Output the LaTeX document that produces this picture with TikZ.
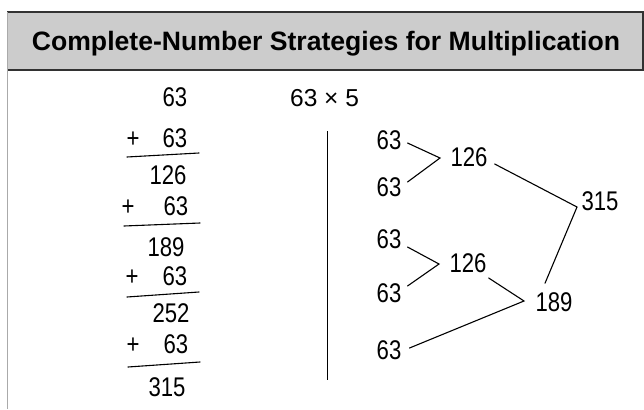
\documentclass[tikz,border=0pt]{standalone}
\usepackage{fontspec}
\setmainfont{Liberation Sans}
\newfontfamily\handfont[FakeStretch=0.82]{Liberation Sans}
\definecolor{hdrfill}{RGB}{204,204,204}
\definecolor{hdrline}{RGB}{50,50,50}
\definecolor{sideline}{RGB}{170,170,170}
\tikzset{
  hw/.style={inner sep=0pt, font=\handfont\fontsize{27}{29}\selectfont},
  pen/.style={line width=1.1pt, black, line cap=round},
}
\begin{document}
\begin{tikzpicture}[x=1pt,y=-1pt]
\useasboundingbox (0,0) rectangle (644,409);
% header
\fill[hdrfill] (7,12) rectangle (643,70);
\draw[hdrline, line width=1.2pt] (7,12) -- (643,12) -- (643,70) -- (7,70);
\draw[sideline, line width=1pt] (7,12) -- (7,409);
\node[inner sep=0pt, font=\fontsize{26.6}{28}\selectfont\bfseries] (title) at (326,44) {Complete-Number Strategies for Multiplication};
% problem
\node[inner sep=0pt, anchor=west, font=\fontsize{24.5}{26}\selectfont] (prob) at (290,98.5) {63 × 5};
\draw[black, line width=1pt] (327,131) -- (327,380);
% left column
\node[hw] (a0) at (175,97) {63};
\node[hw] (p1) at (133,140) {+};
\node[hw] (a1) at (175,138) {63};
\draw[pen] (127,157) -- (199,153);
\node[hw] (s1) at (168,175) {126};
\node[hw] (p2) at (128,208) {+};
\node[hw] (a2) at (176,206) {63};
\draw[pen] (124,226) -- (200,223);
\node[hw] (s2) at (166,247) {189};
\node[hw] (p3) at (132,278) {+};
\node[hw] (a3) at (175,276) {63};
\draw[pen] (127,297) -- (199,292);
\node[hw] (s3) at (171,313) {252};
\node[hw] (p4) at (133,346) {+};
\node[hw] (a4) at (176,344) {63};
\draw[pen] (128,367) -- (200,362);
\node[hw] (s4) at (167,387) {315};
% tree
\node[hw] (t1) at (389,140) {63};
\node[hw] (t2) at (389,187) {63};
\node[hw] (t3) at (469,157) {126};
\node[hw] (t4) at (389,239) {63};
\node[hw] (t5) at (389,293) {63};
\node[hw] (t6) at (468,263) {126};
\node[hw] (t7) at (389,350) {63};
\node[hw] (t8) at (554,302) {189};
\node[hw] (t9) at (600,201) {315};
\coordinate (v1) at (440,158);
\coordinate (v2) at (439,264);
\coordinate (v3) at (524,301);
\coordinate (v4) at (577,207);
\draw[pen] ([shift={(6,3)}]t1.east) -- (v1) -- ([shift={(6,-5)}]t2.east);
\draw[pen] ([shift={(6,8)}]t4.east) -- (v2) -- ([shift={(6,-7)}]t5.east);
\draw[pen] ([shift={(7,7)}]t3.east) -- (v4) -- ([shift={(-9,-9)}]t8.north);
\draw[pen] ([shift={(2,15)}]t6.east) -- (v3) -- ([shift={(8,-2)}]t7.east);
\end{tikzpicture}
\end{document}
